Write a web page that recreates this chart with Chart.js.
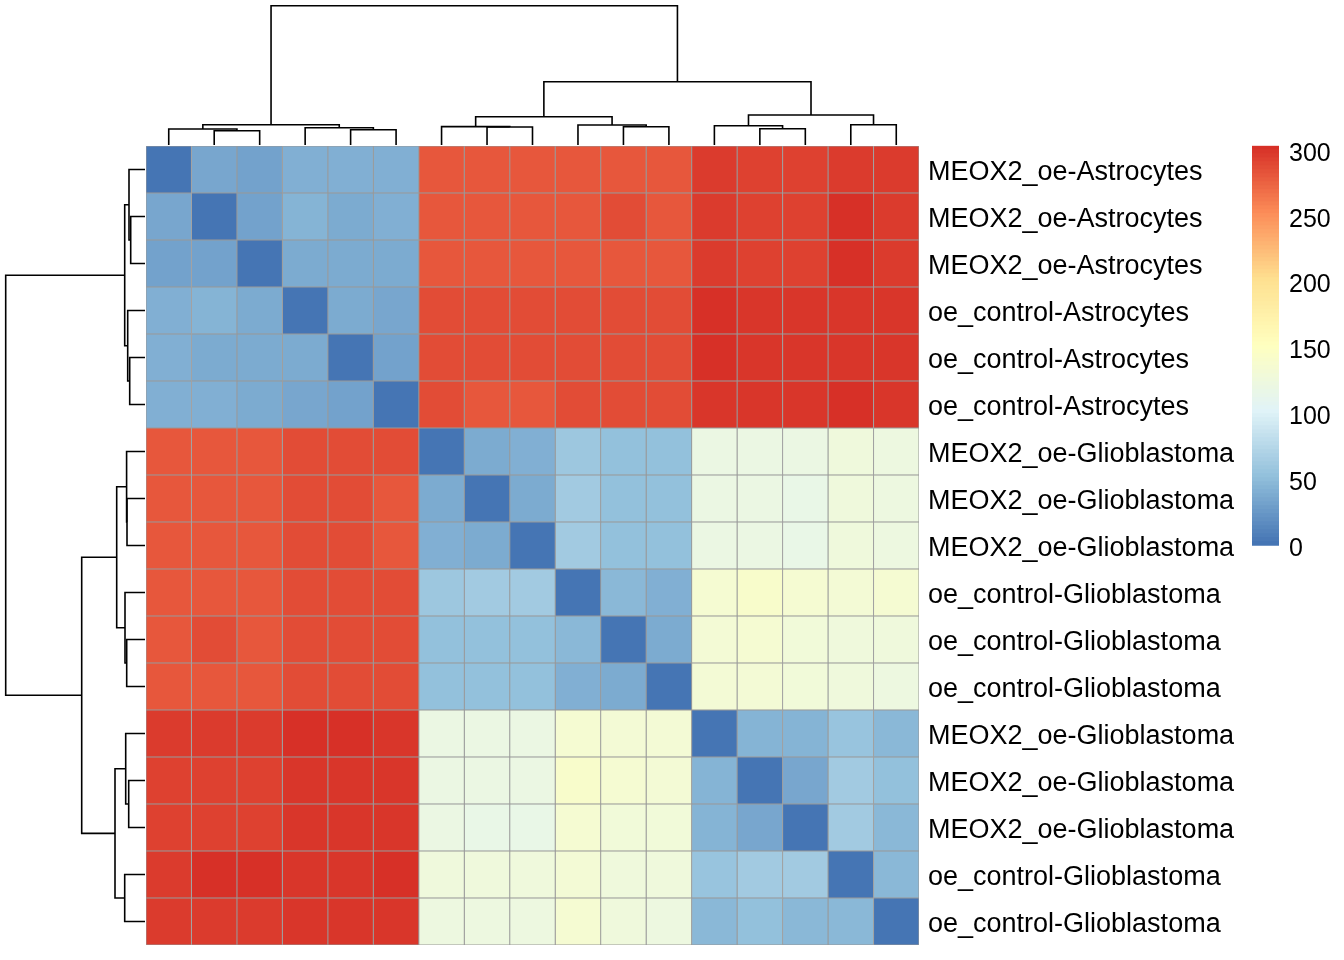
<!DOCTYPE html>
<html>
<head>
<meta charset="utf-8">
<script src="https://cdn.jsdelivr.net/npm/chart.js@4.4.1/dist/chart.umd.min.js"></script>
<style>
    body { margin: 0; background: #fff; }
    #wrap { position: relative; width: 1344px; height: 960px; background: #fff; overflow: hidden; }
    #wrap canvas { position: absolute; }
</style>
</head>
<body>
<div id="wrap">
    <canvas id="heat" width="1344" height="960" style="left:0;top:0"></canvas>
    <canvas id="dendTop" width="773" height="146" style="left:146px;top:0"></canvas>
    <canvas id="dendLeft" width="146" height="799" style="left:0;top:146px"></canvas>
    <canvas id="scale" width="104" height="440" style="left:1240px;top:130px"></canvas>
</div>
<script>
    // samples in dendrogram order (rows and columns are the same)
    const sampleLabels = [
        "MEOX2_oe-Astrocytes", "MEOX2_oe-Astrocytes", "MEOX2_oe-Astrocytes",
        "oe_control-Astrocytes", "oe_control-Astrocytes", "oe_control-Astrocytes",
        "MEOX2_oe-Glioblastoma", "MEOX2_oe-Glioblastoma", "MEOX2_oe-Glioblastoma",
        "oe_control-Glioblastoma", "oe_control-Glioblastoma", "oe_control-Glioblastoma",
        "MEOX2_oe-Glioblastoma", "MEOX2_oe-Glioblastoma", "MEOX2_oe-Glioblastoma",
        "oe_control-Glioblastoma", "oe_control-Glioblastoma"
    ];

    // sample-to-sample distances
    const distances = [
        [0, 35, 32, 42, 42, 42, 281, 281, 281, 281, 281, 281, 297, 294, 294, 297, 297],
        [35, 0, 32, 45, 38, 42, 281, 281, 282, 282, 287, 281, 297, 294, 294, 304, 297],
        [32, 32, 0, 38, 39, 39, 281, 281, 281, 281, 281, 281, 297, 294, 294, 303, 297],
        [42, 45, 38, 0, 39, 35, 287, 287, 287, 287, 287, 287, 303, 298, 298, 300, 298],
        [42, 38, 39, 39, 0, 32, 287, 287, 287, 287, 287, 287, 303, 298, 298, 300, 298],
        [42, 42, 39, 35, 32, 0, 287, 281, 281, 287, 287, 286, 298, 298, 298, 303, 298],
        [281, 281, 281, 287, 287, 287, 0, 39, 40, 59, 52, 52, 120, 120, 121, 127, 122],
        [281, 281, 281, 287, 287, 281, 39, 0, 38, 61, 54, 54, 120, 120, 118, 127, 122],
        [281, 282, 281, 287, 287, 281, 40, 38, 0, 61, 54, 54, 120, 120, 118, 127, 122],
        [281, 282, 281, 287, 287, 287, 59, 61, 61, 0, 46, 42, 136, 140, 134, 132, 134],
        [281, 287, 281, 287, 287, 287, 52, 54, 54, 46, 0, 39, 132, 136, 130, 126, 126],
        [281, 281, 281, 287, 287, 286, 52, 54, 54, 42, 39, 0, 132, 132, 130, 126, 124],
        [297, 297, 297, 303, 303, 298, 120, 120, 120, 136, 132, 132, 0, 43, 43, 56, 46],
        [294, 294, 294, 298, 298, 298, 120, 120, 120, 140, 136, 132, 43, 0, 36, 63, 52],
        [294, 294, 294, 298, 298, 298, 121, 118, 118, 134, 130, 130, 43, 36, 0, 63, 47],
        [297, 304, 303, 300, 300, 303, 127, 127, 127, 132, 126, 126, 56, 63, 63, 0, 46],
        [297, 297, 297, 298, 298, 298, 122, 122, 122, 134, 126, 124, 46, 52, 47, 46, 0]
    ];

    // hclust style merges: negative = leaf (1-based), positive = earlier merge
    const mergeLeft   = [-2, -1, -5, -4, 2, -8, -7, -11, -10, 7, -14, -13, -16, 12, 10, 5];
    const mergeRight  = [-3, 1, -6, 3, 4, -9, 6, -12, 8, 9, -15, 11, -17, 13, 14, 15];
    const mergeHeight = [14.3, 16, 15.3, 17.3, 20.3, 18, 18.4, 18.3, 20, 28.3, 16.3, 19.3, 20.3, 30, 63.3, 139.3];

    const legendTicks = [0, 50, 100, 150, 200, 250, 300];
    const brewerRdYlBu = ["#4575B4", "#91BFDB", "#E0F3F8", "#FFFFBF", "#FEE090", "#FC8D59", "#D73027"];

    const fontFamily = "'Liberation Sans', Arial, sans-serif";

    // colorRampPalette(...)(100)
    let hexRgb = h => [1, 3, 5].map(i => parseInt(h.substr(i, 2), 16));
    let palette = [];
    for (let k = 0; k < 100; k++) {
        let t = k / 99 * (brewerRdYlBu.length - 1);
        let s = Math.min(Math.floor(t), brewerRdYlBu.length - 2);
        let f = t - s;
        let a = hexRgb(brewerRdYlBu[s]), b = hexRgb(brewerRdYlBu[s + 1]);
        palette.push("rgb(" + a.map((c, i) => Math.round(c + (b[i] - c) * f)).join(",") + ")");
    }
    let flat = distances.flat();
    let vMin = Math.min(...flat), vMax = Math.max(...flat);
    let colorOf = v => {
        let k = Math.ceil((v - vMin) / (vMax - vMin) * palette.length) - 1;
        return palette[Math.max(0, Math.min(palette.length - 1, k))];
    };

    // labels must not push the plot area around
    let noPad = s => { s.paddingTop = 0; s.paddingBottom = 0; };

    // heatmap: one stacked horizontal bar per column
    let heatSets = sampleLabels.map((name, j) => ({
        label: name,
        data: sampleLabels.map(() => 1),
        backgroundColor: distances.map(row => colorOf(row[j])),
        borderColor: "#999999",
        borderWidth: 0.85,
        borderSkipped: false
    }));

    new Chart(document.getElementById("heat"), {
        type: "bar",
        data: { labels: sampleLabels, datasets: heatSets },
        options: {
            indexAxis: "y",
            responsive: false,
            animation: false,
            layout: { padding: { left: 146, top: 146, bottom: 15, right: 0 } },
            plugins: { legend: { display: false }, tooltip: { enabled: false } },
            datasets: { bar: { barPercentage: 1, categoryPercentage: 1 } },
            scales: {
                x: { stacked: true, min: 0, max: sampleLabels.length, display: false },
                y: {
                    stacked: true,
                    position: "right",
                    grid: { display: false, drawTicks: false },
                    border: { display: false },
                    ticks: { autoSkip: false, color: "#000", padding: 9, labelOffset: 3, font: { family: fontFamily, size: 27 } },
                    afterFit: s => { s.width = 425; noPad(s); }
                }
            }
        }
    });

    // dendrogram segments from the merges
    function dendroSets(swap) {
        let pos = [], ht = [], sets = [];
        let child = c => c < 0 ? [-c - 0.5, 0] : [pos[c - 1], ht[c - 1]];
        mergeHeight.forEach((h, m) => {
            let [xl, hl] = child(mergeLeft[m]);
            let [xr, hr] = child(mergeRight[m]);
            pos.push((xl + xr) / 2);
            ht.push(h);
            let pts = [[xl, hl], [xl, h], [xr, h], [xr, hr]];
            sets.push({
                data: pts.map(p => swap ? { x: p[1], y: p[0] } : { x: p[0], y: p[1] }),
                showLine: true,
                borderColor: "#000",
                borderWidth: 1.6,
                pointRadius: 0,
                tension: 0,
                clip: false
            });
        });
        return sets;
    }

    let dendroBase = {
        responsive: false,
        animation: false,
        plugins: { legend: { display: false }, tooltip: { enabled: false } }
    };

    new Chart(document.getElementById("dendTop"), {
        type: "scatter",
        data: { datasets: dendroSets(false) },
        options: Object.assign({}, dendroBase, {
            layout: { padding: { left: 0, right: 0, top: 0, bottom: 1 } },
            scales: {
                x: { type: "linear", min: 0, max: sampleLabels.length, display: false },
                y: { type: "linear", min: 0, max: 145, display: false }
            }
        })
    });

    new Chart(document.getElementById("dendLeft"), {
        type: "scatter",
        data: { datasets: dendroSets(true) },
        options: Object.assign({}, dendroBase, {
            layout: { padding: { left: 0, right: 1, top: 0, bottom: 0 } },
            scales: {
                x: { type: "linear", min: 0, max: 145, reverse: true, display: false },
                y: { type: "linear", min: 0, max: sampleLabels.length, reverse: true, display: false }
            }
        })
    });

    // colour key
    let step = (vMax - vMin) / palette.length;
    new Chart(document.getElementById("scale"), {
        type: "bar",
        data: {
            labels: [""],
            datasets: palette.map(c => ({ data: [step], backgroundColor: c, borderWidth: 0 }))
        },
        options: {
            responsive: false,
            animation: false,
            layout: { padding: { left: 12, right: 0, top: 15.7, bottom: 24.3 } },
            plugins: { legend: { display: false }, tooltip: { enabled: false } },
            datasets: { bar: { barPercentage: 1, categoryPercentage: 1 } },
            scales: {
                x: { stacked: true, display: false },
                y: {
                    stacked: true,
                    position: "right",
                    min: vMin,
                    max: vMax,
                    grid: { display: false, drawTicks: false },
                    border: { display: false },
                    ticks: { color: "#000", padding: 10, labelOffset: 3, font: { family: fontFamily, size: 25 } },
                    afterBuildTicks: s => { s.ticks = legendTicks.map(v => ({ value: v })); },
                    afterFit: s => { s.width = 65; noPad(s); }
                }
            }
        }
    });
</script>
</body>
</html>
